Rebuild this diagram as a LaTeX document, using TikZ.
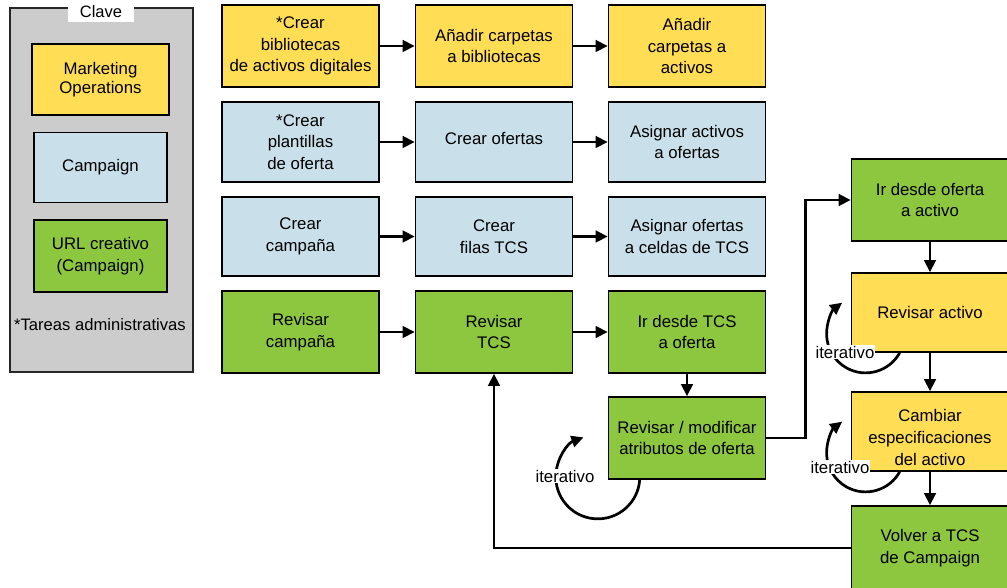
\documentclass[tikz,border=0pt]{standalone}
\usepackage{fontspec}
\setmainfont{Liberation Sans}
\usetikzlibrary{arrows.meta,calc}
\definecolor{myyellow}{RGB}{255,221,85}
\definecolor{myblue}{RGB}{201,224,234}
\definecolor{mygreen}{RGB}{141,198,63}
\definecolor{mygray}{RGB}{204,204,204}
\newcommand{\stackedtext}[1]{\begin{tabular}{@{}c@{}}#1\end{tabular}}
\begin{document}
\begin{tikzpicture}[x=1pt,y=-1pt,
  box/.style={draw=black,line width=1.6pt,minimum width=157pt,minimum height=81pt,inner sep=0pt,align=center,font=\fontsize{16.8}{21.6}\selectfont},
  ybox/.style={box,fill=myyellow},
  bbox/.style={box,fill=myblue},
  gbox/.style={box,fill=mygreen},
  arr/.style={line width=2.7pt,-{Triangle[length=12pt,width=11.5pt]}},
  lbl/.style={fill=white,inner sep=1pt,font=\fontsize{16.8}{19}\selectfont}]
\useasboundingbox (0,0) rectangle (1007,588);
\clip (0,0) rectangle (1007,588);

% key
\node[draw=black!85,line width=2.5pt,fill=mygray,minimum width=183pt,minimum height=364pt,inner sep=0pt] (key) at (101.5,190) {};
\node[fill=white,minimum width=66pt,minimum height=20pt,inner sep=0pt,font=\fontsize{16.5}{19}\selectfont] (clave) at (101,12) {Clave};
\node[ybox,minimum width=137pt,minimum height=71pt,font=\fontsize{16.8}{18.6}\selectfont] (k1) at (100.5,79.5) {Marketing\\Operations};
\node[bbox,minimum width=133pt,minimum height=70pt] (k2) at (100.5,167.5) {Campaign};
\node[gbox,minimum width=133pt,minimum height=72pt] (k3) at (100.5,256) {URL creativo\\(Campaign)};
\node[font=\fontsize{16.6}{19}\selectfont,inner sep=0pt] (tareas) at (100,325) {*Tareas administrativas};

% row 1
\node[ybox,minimum height=82pt] (a1) at (300.5,46) {*Crear\\bibliotecas\\de activos digitales};
\node[ybox,minimum height=82pt] (a2) at (494,46) {Añadir carpetas\\a bibliotecas};
\node[ybox,minimum height=82pt] (a3) at (687,46) {Añadir\\carpetas a\\activos};
% row 2
\node[bbox,minimum height=80pt] (b1) at (300.5,142) {*Crear\\plantillas\\de oferta};
\node[bbox,minimum height=80pt] (b2) at (494,142) {\raisebox{-3pt}[0pt][0pt]{Crear ofertas}};
\node[bbox,minimum height=80pt] (b3) at (687,142) {Asignar activos\\a ofertas};
% row 3
\node[bbox,minimum height=79pt] (c1) at (300.5,236.5) {Crear\\campaña};
\node[bbox,minimum height=79pt] (c2) at (494,236.5) {Crear\\filas TCS};
\node[bbox,minimum height=79pt] (c3) at (687,236.5) {Asignar ofertas\\a celdas de TCS};
% row 4
\node[gbox,minimum height=82pt] (d1) at (300.5,332) {Revisar\\campaña};
\node[gbox,minimum height=82pt] (d2) at (494,332) {Revisar\\TCS};
\node[gbox,minimum height=82pt] (d3) at (687,332) {Ir desde TCS\\a oferta};
% offer review
\node[gbox,minimum height=82pt] (ofr) at (687,438) {Revisar / modificar\\atributos de oferta};
% right column
\node[gbox,minimum height=82pt] (ir) at (930,200) {Ir desde oferta\\a activo};
\node[ybox,minimum height=79pt] (ra) at (930,312.5) {Revisar activo};
\node[ybox,minimum height=79pt] (ca) at (930,431.5) {\raisebox{-12pt}[0pt][0pt]{\stackedtext{Cambiar\\especificaciones\\del activo}}};
\node[gbox,minimum height=84pt] (vt) at (930,548) {Volver a TCS\\de Campaign};

% horizontal arrows
\draw[arr] (a1) -- (a2);
\draw[arr] (a2) -- (a3);
\draw[arr] (b1) -- (b2);
\draw[arr] (b2) -- (b3);
\draw[arr] (c1) -- (c2);
\draw[arr] (c2) -- (c3);
\draw[arr] (d1) -- (d2);
\draw[arr] (d2) -- (d3);
% flow
\draw[arr] (d3) -- (ofr);
\draw[arr] (ofr.east) -- ++(39,0) |- (ir.west);
\draw[arr] (ir) -- (ra);
\draw[arr] (ra) -- (ca);
\draw[arr] (ca) -- (vt);
\draw[arr] (vt.west) -| (d2.south);

% iterative loops
\draw[arr] ($(ofr.south west)+(32,0)$) arc[start angle=4,end angle=250,radius=42];
\draw[arr] ($(ra.south west)+(49,0)$) arc[start angle=29,end angle=233,radius=39];
\draw[arr] ($(ca.south west)+(49,0)$) arc[start angle=29,end angle=233,radius=39];
\node[lbl] (it1) at (565,476) {iterativo};
\node[lbl] (it2) at (845,352) {iterativo};
\node[lbl] (it3) at (840,467) {iterativo};
\end{tikzpicture}
\end{document}
